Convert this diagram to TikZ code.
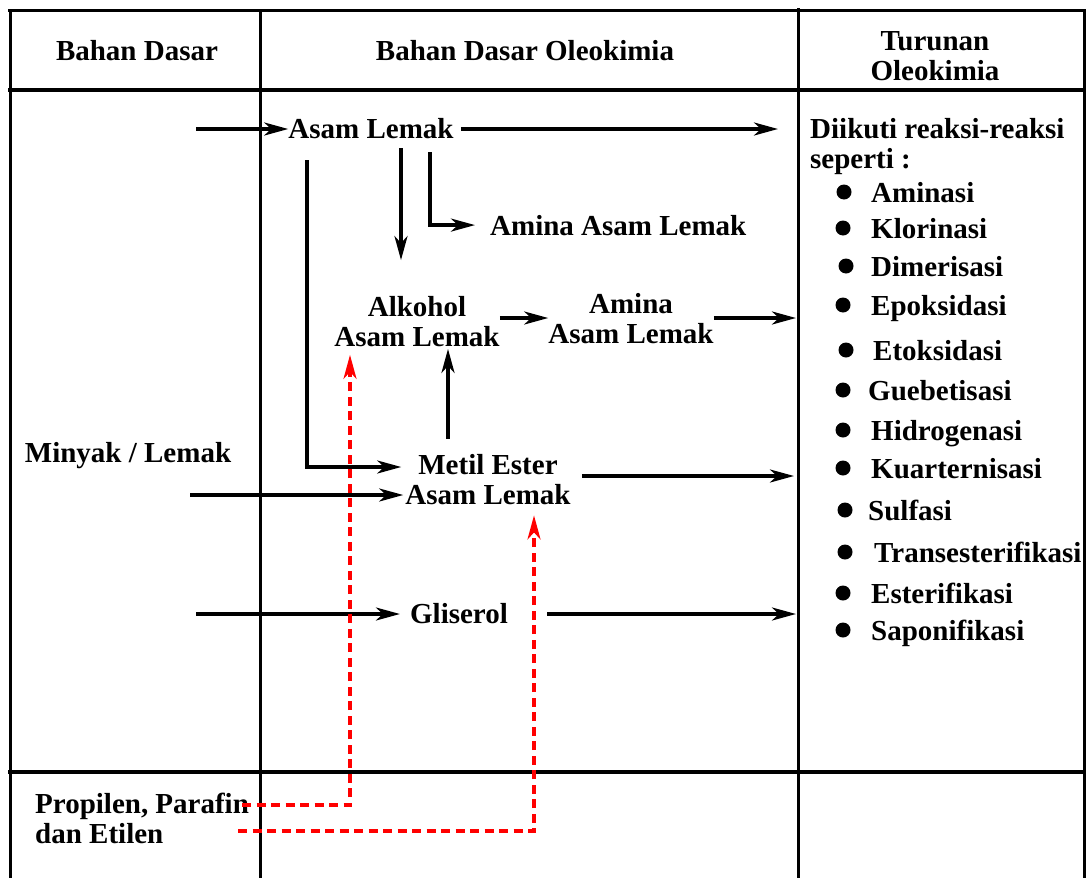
\documentclass[tikz,border=0pt]{standalone}
\usepackage{fontspec}
\setmainfont{Liberation Serif}
\usetikzlibrary{arrows.meta}
\begin{document}
\begin{tikzpicture}[x=1pt,y=-1pt,
  txt/.style={inner sep=0pt, font=\bfseries\fontsize{29}{30}\selectfont},
  tip/.style={-{Stealth[length=24pt,width=13pt,inset=7pt]}},
  arr/.style={line width=3.4pt, tip},
  rarr/.style={line width=3.2pt, red, dash pattern=on 9pt off 5.5pt, tip},
  gridline/.style={line width=3pt},
  bul/.style={circle, fill=black, inner sep=0pt, minimum size=15pt}]
\useasboundingbox (0,0) rectangle (1086,878);
% table frame
\draw[gridline] (8,10) -- (1086,10);
\draw[gridline] (10,10) -- (10,878);
\draw[gridline] (260,10) -- (260,878);
\draw[gridline] (798,8) -- (798,878);
\draw[gridline] (1084,10) -- (1084,878);
\draw[line width=3.6pt] (8,90) -- (1086,90);
\draw[line width=3.8pt] (8,772) -- (1084,772);
% headers
\node[txt, anchor=base] (h1) at (137,60) {Bahan Dasar};
\node[txt, anchor=base] (h2) at (525,60) {Bahan Dasar Oleokimia};
\node[txt, align=center] (h3) at (935,56.5) {Turunan\\Oleokimia};
% nodes
\node[txt, anchor=base] (al) at (371,138) {Asam Lemak};
\node[txt, anchor=base west] (ama) at (490,235) {Amina Asam Lemak};
\node[txt, align=center] (alk) at (417,321.5) {Alkohol\\Asam Lemak};
\node[txt, align=center] (am2) at (631,319) {Amina\\Asam Lemak};
\node[txt, align=center] (me) at (488,480) {Metil Ester\\Asam Lemak};
\node[txt, anchor=base] (gl) at (459,623) {Gliserol};
\node[txt, anchor=base] (my) at (128,462) {Minyak / Lemak};
\node[txt, align=left, anchor=west] (pr) at (35,818.5) {Propilen, Parafin\\dan Etilen};
\node[txt, align=left, anchor=west] (dk) at (810,147) {Diikuti reaksi-reaksi\\seperti :};
% bullet list
\foreach \t/\y/\bx/\tx [count=\i] in {Aminasi/192/844/871, Klorinasi/228/843/871, Dimerisasi/266/846/871, Epoksidasi/305/843/871, Etoksidasi/350/846/873, Guebetisasi/390/843/868, Hidrogenasi/430/843/871, Kuarternisasi/468/843/871, Sulfasi/510/845/868, Transesterifikasi/552/845/874, Esterifikasi/593/843/871, Saponifikasi/630/843/871}{
  \node[bul] (b\i) at (\bx,\y) {};
  \node[txt, anchor=base west] (r\i) at (\tx,\y+10) {\t};
}
% coordinates
\coordinate (in1) at (196,129);
\coordinate (o1) at (778,129);
\coordinate (x3) at (401,0);
\coordinate (x4) at (430,0);
\coordinate (c5) at (307,467);
\coordinate (s6) at (190,495);
\coordinate (x7) at (448,0);
\coordinate (c8) at (0,318);
\coordinate (o2) at (796,318);
\coordinate (o3) at (794,476);
\coordinate (s11) at (196,614);
\coordinate (o4) at (796,614);
\coordinate (r1) at (242,805);
\coordinate (x9) at (350,0);
\coordinate (r2) at (238,831);
\coordinate (x10) at (534,0);
% black arrows
\draw[arr] (in1) -- (al.west |- in1);
\draw[arr, shorten <=7pt] (al.east |- o1) -- (o1);
\draw[arr, shorten <=10pt, shorten >=36pt] (al.south -| x3) -- (alk.north -| x3);
\draw[arr, shorten <=14pt, shorten >=15pt] (al.south -| x4) |- (ama.west);
\draw[arr, shorten <=22pt, shorten >=4pt] (al.south -| c5) |- (me.west |- c5);
\draw[arr, shorten >=2pt] (s6) -- (me.west |- s6);
\draw[arr, shorten <=16pt, shorten >=2pt] (me.north -| x7) -- (alk.south -| x7);
\draw[arr] (alk.east |- c8) -- (am2.west |- c8);
\draw[arr] (am2.east |- o2) -- (o2);
\draw[arr, shorten <=11pt] (me.east |- o3) -- (o3);
\draw[arr, shorten >=10pt] (s11) -- (gl.west |- s11);
\draw[arr, shorten <=39pt] (gl.east |- o4) -- (o4);
% red dashed arrows
\draw[rarr, shorten >=8pt] (r1) -| (x9 |- alk.south);
\draw[rarr, shorten >=10pt] (r2) -| (x10 |- me.south);
\end{tikzpicture}
\end{document}
